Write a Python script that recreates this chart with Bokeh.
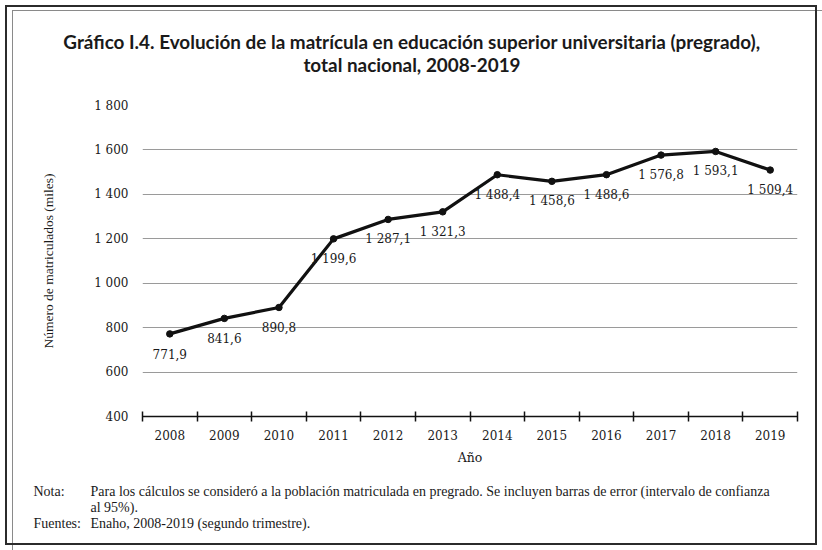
from bokeh.plotting import figure
from bokeh.layouts import column
from bokeh.models import Range1d, FixedTicker
from bokeh.embed import file_html
from bokeh.resources import INLINE
from bokeh.core.properties import value

# ---- data ----
years = [2008, 2009, 2010, 2011, 2012, 2013, 2014, 2015, 2016, 2017, 2018, 2019]
enrolment = [771.9, 841.6, 890.8, 1199.6, 1287.1, 1321.3, 1488.4, 1458.6, 1488.6, 1576.8, 1593.1, 1509.4]
y_ticks = [400, 600, 800, 1000, 1200, 1400, 1600, 1800]

title_lines = ["Gráfico I.4. Evolución de la matrícula en educación superior universitaria (pregrado),",
               "total nacional, 2008-2019"]
y_title = "Número de matriculados (miles)"
x_title = "Año"
note_heads = ["Nota:", "", "Fuentes:"]
note_texts = ["Para los cálculos se consideró a la población matriculada en pregrado. Se incluyen barras de error (intervalo de confianza",
              "al 95%).",
              "Enaho, 2008-2019 (segundo trimestre)."]


def fmt_es(v, decimals):
    s = f"{v:,.{decimals}f}"
    return s.replace(",", " ").replace(".", ",")


value_labels = [fmt_es(v, 1) for v in enrolment]
y_tick_labels = {t: fmt_es(t, 0) for t in y_ticks}

W = 822
SERIF_NUM = "DejaVu Serif"
SERIF_TXT = "Liberation Serif"
INK = "#1a1a1a"


def text_panel(h):
    f = figure(width=W, height=h, x_range=Range1d(0, W), y_range=Range1d(0, h),
               output_backend="svg", toolbar_location=None,
               x_axis_location=None, y_axis_location=None, min_border=0,
               frame_align=False)
    f.grid.visible = False
    f.outline_line_color = None
    f.background_fill_color = None
    f.border_fill_color = None
    return f


# ---- title panel ----
TH = 88
pt = text_panel(TH)
pt.text(x=[411.5, 411.5], y=[TH - 41, TH - 64], text=title_lines,
        text_align="center", text_baseline="middle",
        text_font=value("Lato"), text_font_style="bold",
        text_font_size="18.9px", text_color=INK)

# ---- main chart ----
p = figure(width=W, height=382,
           x_range=Range1d(years[0] - 0.5, years[-1] + 0.5),
           y_range=Range1d(y_ticks[0], y_ticks[-1]),
           output_backend="svg", toolbar_location=None,
           min_border_left=142, min_border_right=25,
           min_border_top=17, min_border_bottom=54, frame_align=False)
p.outline_line_color = None
p.background_fill_color = "white"
p.border_fill_color = None

xa = p.xaxis[0]
xa.ticker = FixedTicker(ticks=years, minor_ticks=[y - 0.5 for y in years] + [years[-1] + 0.5])
xa.major_tick_line_color = None
xa.major_tick_in = 0
xa.major_tick_out = 5
xa.minor_tick_in = 5
xa.minor_tick_out = 5
xa.minor_tick_line_color = "#111111"
xa.minor_tick_line_width = 1.5
xa.axis_line_color = "#111111"
xa.axis_line_width = 1.5
xa.major_label_text_font = SERIF_NUM
xa.major_label_text_font_size = "12px"
xa.major_label_text_color = INK
xa.major_label_standoff = 8
xa.axis_label = x_title
xa.axis_label_text_font = SERIF_NUM
xa.axis_label_text_font_size = "12.5px"
xa.axis_label_text_font_style = "normal"
xa.axis_label_text_color = INK
xa.axis_label_standoff = 7

ya = p.yaxis[0]
ya.ticker = FixedTicker(ticks=y_ticks)
ya.major_label_overrides = y_tick_labels
ya.axis_line_color = None
ya.major_tick_line_color = None
ya.minor_tick_line_color = None
ya.major_tick_in = 0
ya.major_tick_out = 0
ya.major_label_standoff = 14
ya.major_label_text_font = SERIF_NUM
ya.major_label_text_font_size = "12px"
ya.major_label_text_color = INK
ya.axis_label = y_title
ya.axis_label_text_font = SERIF_TXT
ya.axis_label_text_font_size = "13.5px"
ya.axis_label_text_font_style = "normal"
ya.axis_label_text_color = INK
ya.axis_label_standoff = 35

p.xgrid.grid_line_color = None
p.ygrid.ticker = FixedTicker(ticks=y_ticks)
p.ygrid.grid_line_color = "#9a9a9a"
p.ygrid.grid_line_width = 1.2

p.line(years, enrolment, line_width=3.2, line_color="#111111")
p.scatter(years, enrolment, size=6.5, color="#111111")
p.text(x=years, y=enrolment, text=value_labels, text_align="center",
       text_baseline="middle", y_offset=20,
       text_font=value(SERIF_NUM), text_font_size="12px", text_color=INK)

# ---- notes panel ----
NH = 80
pn = text_panel(NH)
note_y = [NH - 21, NH - 37, NH - 53]
pn.text(x=[33] * 3, y=note_y, text=note_heads, text_align="left", text_baseline="middle",
        text_font=value(SERIF_TXT), text_font_size="14px", text_color=INK)
pn.text(x=[90] * 3, y=note_y, text=note_texts, text_align="left", text_baseline="middle",
        text_font=value(SERIF_TXT), text_font_size="14px", text_color=INK)

layout = column(pt, p, pn, spacing=0,
                styles={"outline": "2px solid #2b2b2b", "outline-offset": "-7px",
                        "box-shadow": "inset 12px 10px 0 0 #ffffff, inset 13px 11px 0 0 #8a8a8a"})

open("out.html", "w").write(file_html(layout, INLINE))
